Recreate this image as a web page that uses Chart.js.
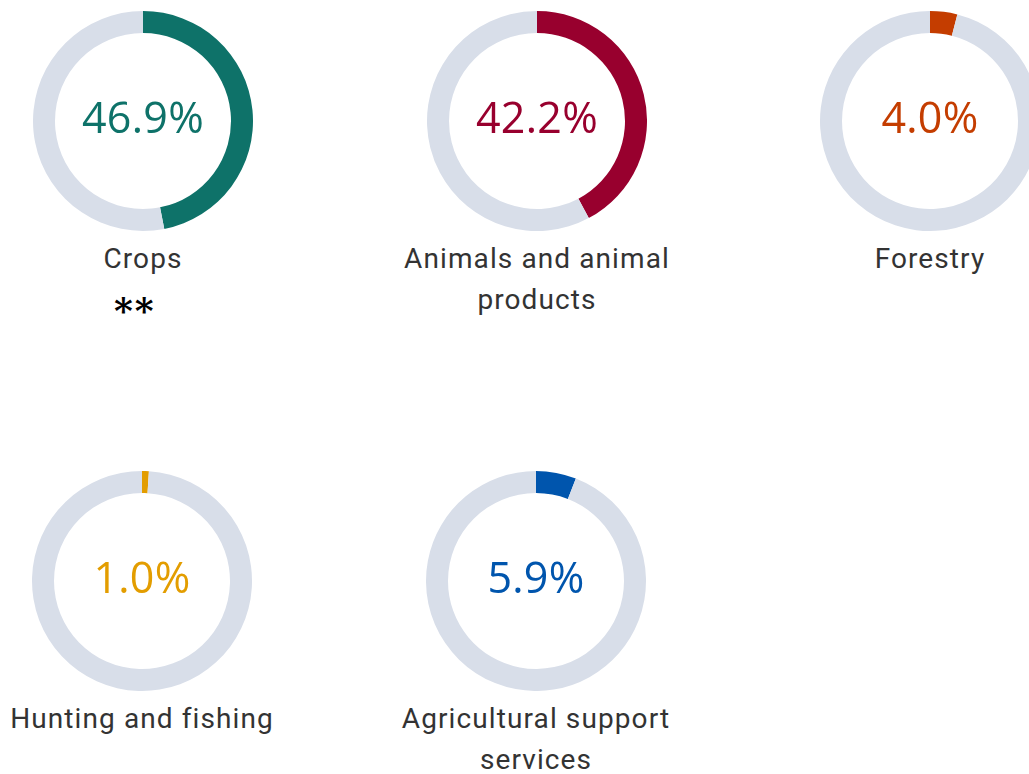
<!DOCTYPE html>
<html lang="en">
<head>
  <meta charset="UTF-8">
  <title>Agriculture shares</title>
  <script src="https://cdn.jsdelivr.net/npm/chart.js"></script>
  <style>
    body {
      margin: 0;
      background: #fff;
      width: 1029px;
      height: 774px;
      overflow: hidden;
      position: relative;
      font-family: Roboto, Arial, sans-serif;
    }
    .ring {
      position: absolute;
      width: 220px;
      height: 220px;
    }
    .ring canvas {
      width: 220px;
      height: 220px;
    }
    .pct {
      position: absolute;
      left: 0; top: 0;
      width: 220px;
      height: 220px;
      line-height: 220px;
      text-align: center;
      font-family: "Open Sans", "Noto Sans", sans-serif;
      font-size: 43px;
      margin-top: -4px;
      letter-spacing: 0.3px;
    }
    .label {
      position: absolute;
      width: 300px;
      text-align: center;
      font-size: 28px;
      line-height: 41px;
      letter-spacing: 1.1px;
      color: #333;
    }
    .stars {
      position: absolute;
      left: 114px;
      top: 289px;
      font-family: "DejaVu Serif", serif;
      font-weight: bold;
      font-size: 36px;
      letter-spacing: 2px;
      color: #000;
    }
  </style>
</head>
<body>
  <div class="stars">**</div>

  <script>
    const categories = ['Crops', 'Animals and animal products', 'Forestry', 'Hunting and fishing', 'Agricultural support services'];
    const shares = [46.9, 42.2, 4.0, 1.0, 5.9];
    const colors = ['#0e7269', '#98002e', '#c43d00', '#e39d00', '#0055ad'];
    const trackColor = '#d8dee9';

    // centre of each ring on the page
    const centres = [[143, 121], [537, 121], [930, 121], [142, 581], [536, 581]];

    categories.forEach((name, i) => {
      const [cx, cy] = centres[i];

      const box = document.createElement('div');
      box.className = 'ring';
      box.style.left = (cx - 110) + 'px';
      box.style.top = (cy - 110) + 'px';
      const canvas = document.createElement('canvas');
      box.appendChild(canvas);
      const pct = document.createElement('div');
      pct.className = 'pct';
      pct.style.color = colors[i];
      pct.textContent = shares[i].toFixed(1) + '%';
      box.appendChild(pct);
      document.body.appendChild(box);

      const label = document.createElement('div');
      label.className = 'label';
      label.style.left = (cx - 150) + 'px';
      label.style.top = (cy + 117) + 'px';
      label.textContent = name;
      document.body.appendChild(label);

      new Chart(canvas, {
        type: 'doughnut',
        data: {
          labels: [name, 'Other'],
          datasets: [{
            data: [shares[i], 100 - shares[i]],
            backgroundColor: [colors[i], trackColor],
            borderWidth: 0
          }]
        },
        options: {
          responsive: false,
          animation: false,
          cutout: '80%',
          plugins: {
            legend: { display: false },
            tooltip: { enabled: false }
          }
        }
      });
    });
  </script>
</body>
</html>
